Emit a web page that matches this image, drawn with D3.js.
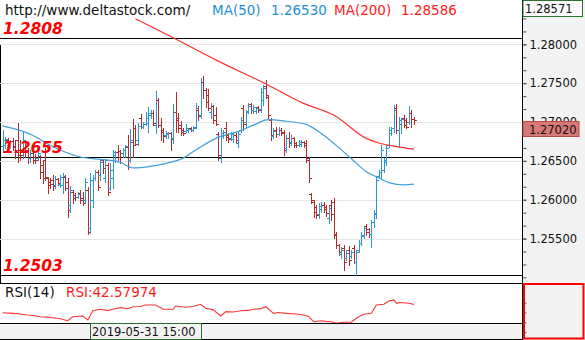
<!DOCTYPE html>
<html>
<head>
<meta charset="utf-8">
<script src="https://cdn.jsdelivr.net/npm/d3@7"></script>
<style>
  body { margin: 0; background: #fff; }
  svg { display: block; }
  text { font-family: "DejaVu Sans", Verdana, sans-serif; }
</style>
</head>
<body>
<svg id="chart" width="585" height="340"></svg>
<script>
// Hourly OHLC bars
const opens = [
  1.2669,1.2670,1.2677,1.2670,1.2676,1.2669,1.2677,1.2664,1.2661,1.2674,
  1.2664,1.2654,1.2660,1.2655,1.2654,1.2656,1.2645,1.2651,1.2628,1.2623,
  1.2625,1.2619,1.2627,1.2620,1.2619,1.2629,1.2623,1.2593,1.2610,1.2606,
  1.2603,1.2609,1.2602,1.2600,1.2612,1.2564,1.2600,1.2628,1.2636,1.2632,
  1.2651,1.2628,1.2645,1.2615,1.2628,1.2657,1.2661,1.2663,1.2660,1.2664,
  1.2668,1.2651,1.2674,1.2692,1.2677,1.2705,1.2694,1.2697,1.2699,1.2709,
  1.2712,1.2696,1.2728,1.2696,1.2690,1.2683,1.2685,1.2686,1.2680,1.2713,
  1.2705,1.2696,1.2690,1.2689,1.2690,1.2692,1.2690,1.2694,1.2716,1.2709,
  1.2751,1.2741,1.2735,1.2713,1.2721,1.2709,1.2685,1.2654,1.2682,1.2692,
  1.2683,1.2680,1.2678,1.2683,1.2673,1.2690,1.2718,1.2700,1.2714,1.2723,
  1.2716,1.2714,1.2719,1.2717,1.2728,1.2746,1.2732,1.2703,1.2682,1.2690,
  1.2685,1.2690,1.2687,1.2667,1.2680,1.2674,1.2680,1.2673,1.2670,1.2672,
  1.2674,1.2673,1.2651,1.2607,1.2597,1.2591,1.2582,1.2588,1.2593,1.2591,
  1.2577,1.2593,1.2597,1.2556,1.2542,1.2530,1.2538,1.2525,1.2535,1.2528,
  1.2538,1.2520,1.2535,1.2544,1.2555,1.2566,1.2562,1.2556,1.2571,1.2582,
  1.2631,1.2636,1.2638,1.2649,1.2670,1.2686,1.2692,1.2718,1.2690,1.2697,
  1.2705,1.2703,1.2700,1.2712,1.2704
];
const highs = [
  1.2690,1.2681,1.2680,1.2677,1.2680,1.2677,1.2699,1.2677,1.2687,1.2677,
  1.2667,1.2664,1.2664,1.2659,1.2664,1.2657,1.2651,1.2667,1.2629,1.2628,
  1.2632,1.2631,1.2628,1.2632,1.2634,1.2632,1.2628,1.2618,1.2612,1.2609,
  1.2610,1.2612,1.2610,1.2628,1.2616,1.2634,1.2632,1.2638,1.2638,1.2651,
  1.2651,1.2652,1.2647,1.2647,1.2664,1.2663,1.2670,1.2664,1.2667,1.2670,
  1.2683,1.2691,1.2704,1.2696,1.2699,1.2710,1.2700,1.2713,1.2719,1.2716,
  1.2716,1.2740,1.2731,1.2705,1.2692,1.2689,1.2687,1.2687,1.2723,1.2739,
  1.2712,1.2701,1.2692,1.2697,1.2692,1.2694,1.2695,1.2724,1.2721,1.2757,
  1.2759,1.2744,1.2743,1.2724,1.2722,1.2719,1.2687,1.2692,1.2690,1.2700,
  1.2686,1.2687,1.2687,1.2686,1.2687,1.2706,1.2722,1.2716,1.2724,1.2724,
  1.2722,1.2719,1.2721,1.2744,1.2748,1.2754,1.2735,1.2705,1.2692,1.2694,
  1.2694,1.2692,1.2690,1.2683,1.2687,1.2683,1.2681,1.2674,1.2677,1.2677,
  1.2675,1.2677,1.2655,1.2609,1.2600,1.2593,1.2596,1.2597,1.2597,1.2593,
  1.2593,1.2600,1.2602,1.2558,1.2543,1.2539,1.2542,1.2535,1.2540,1.2535,
  1.2542,1.2535,1.2548,1.2558,1.2566,1.2569,1.2564,1.2574,1.2587,1.2631,
  1.2638,1.2670,1.2654,1.2670,1.2694,1.2694,1.2722,1.2723,1.2706,1.2705,
  1.2709,1.2705,1.2721,1.2716,1.2706
];
const lows = [
  1.2661,1.2667,1.2668,1.2667,1.2664,1.2654,1.2649,1.2651,1.2654,1.2655,
  1.2647,1.2649,1.2647,1.2647,1.2651,1.2628,1.2622,1.2625,1.2609,1.2615,
  1.2612,1.2615,1.2619,1.2616,1.2609,1.2612,1.2578,1.2584,1.2596,1.2600,
  1.2602,1.2596,1.2593,1.2597,1.2556,1.2557,1.2591,1.2625,1.2612,1.2625,
  1.2634,1.2623,1.2606,1.2612,1.2615,1.2649,1.2651,1.2647,1.2655,1.2655,
  1.2639,1.2649,1.2655,1.2670,1.2670,1.2692,1.2692,1.2696,1.2687,1.2705,
  1.2696,1.2686,1.2694,1.2677,1.2674,1.2680,1.2680,1.2664,1.2673,1.2687,
  1.2687,1.2683,1.2683,1.2687,1.2687,1.2689,1.2689,1.2692,1.2703,1.2705,
  1.2731,1.2719,1.2716,1.2705,1.2699,1.2696,1.2651,1.2649,1.2680,1.2677,
  1.2674,1.2677,1.2674,1.2673,1.2668,1.2687,1.2690,1.2694,1.2712,1.2712,
  1.2712,1.2712,1.2713,1.2713,1.2722,1.2731,1.2705,1.2677,1.2680,1.2681,
  1.2683,1.2683,1.2657,1.2661,1.2668,1.2670,1.2668,1.2668,1.2669,1.2669,
  1.2668,1.2649,1.2623,1.2596,1.2578,1.2577,1.2577,1.2584,1.2584,1.2579,
  1.2570,1.2574,1.2551,1.2538,1.2529,1.2525,1.2510,1.2522,1.2516,1.2525,
  1.2518,1.2503,1.2533,1.2542,1.2551,1.2555,1.2552,1.2539,1.2565,1.2577,
  1.2629,1.2628,1.2636,1.2645,1.2668,1.2683,1.2687,1.2686,1.2668,1.2686,
  1.2694,1.2692,1.2697,1.2694,1.2697
];
const closes = [
  1.2677,1.2678,1.2672,1.2676,1.2668,1.2661,1.2657,1.2657,1.2677,1.2661,
  1.2654,1.2660,1.2651,1.2651,1.2660,1.2636,1.2628,1.2629,1.2619,1.2620,
  1.2618,1.2627,1.2622,1.2629,1.2631,1.2615,1.2587,1.2612,1.2602,1.2603,
  1.2607,1.2600,1.2596,1.2623,1.2558,1.2625,1.2628,1.2636,1.2616,1.2649,
  1.2641,1.2651,1.2610,1.2638,1.2661,1.2661,1.2655,1.2660,1.2664,1.2669,
  1.2651,1.2677,1.2670,1.2672,1.2695,1.2694,1.2697,1.2705,1.2712,1.2712,
  1.2699,1.2728,1.2696,1.2687,1.2682,1.2686,1.2686,1.2678,1.2713,1.2703,
  1.2692,1.2687,1.2686,1.2692,1.2691,1.2690,1.2692,1.2718,1.2708,1.2751,
  1.2741,1.2726,1.2718,1.2721,1.2703,1.2697,1.2657,1.2686,1.2687,1.2681,
  1.2678,1.2685,1.2683,1.2677,1.2685,1.2703,1.2697,1.2713,1.2721,1.2716,
  1.2719,1.2718,1.2716,1.2739,1.2744,1.2735,1.2709,1.2683,1.2689,1.2685,
  1.2690,1.2686,1.2664,1.2680,1.2673,1.2680,1.2670,1.2670,1.2674,1.2674,
  1.2670,1.2654,1.2628,1.2600,1.2584,1.2580,1.2592,1.2593,1.2588,1.2583,
  1.2589,1.2582,1.2555,1.2542,1.2533,1.2535,1.2520,1.2531,1.2522,1.2533,
  1.2520,1.2533,1.2544,1.2553,1.2564,1.2558,1.2556,1.2571,1.2583,1.2625,
  1.2636,1.2664,1.2651,1.2667,1.2690,1.2692,1.2716,1.2690,1.2703,1.2704,
  1.2696,1.2694,1.2712,1.2704,1.2702
];

// Moving averages, [bar index, value]
const ma50 = [
  [0,1.2695],[12,1.2683],[19,1.2670],[31,1.2655],[39,1.2652],[47,1.2648],
  [52,1.2641],[59,1.2643],[68,1.2649],[71,1.2652],[77,1.2664],[85,1.2679],
  [95,1.2689],[100,1.2696],[106,1.2703],[113,1.2701],[121,1.2697],[128,1.2683],
  [133,1.2670],[139,1.2653],[145,1.2636],[150,1.2628],[154,1.2622],[160,1.2619],[164,1.2620]
];
const ma200 = [
  [53,1.2833],[69,1.2807],[85,1.2780],[105,1.2749],[120,1.2724],[132,1.2709],
  [145,1.2679],[150,1.2673],[158,1.2668],[164,1.2665]
];

// RSI(14), [bar index, value]
const rsi14 = [
  [0,32.2],[4,31.4],[7,30.6],[10,29.3],[13,28.4],[15,27.1],[18,26.6],[20,25.8],[23,24.6],[26,22.0],[28,27.1],[32,28.0],
  [34,22.9],[36,34.7],[39,36.5],[42,34.9],[44,36.5],[47,38.6],[50,37.2],[52,39.8],[55,40.1],[57,42.0],[61,42.0],
  [64,36.5],[68,36.5],[69,40.7],[73,39.1],[76,40.0],[79,42.9],[81,37.8],[84,35.8],[87,28.0],[89,33.5],
  [92,33.0],[95,34.7],[98,35.1],[100,36.5],[103,37.4],[105,39.8],[108,31.4],[110,32.4],[113,31.4],[117,30.5],[120,29.3],
  [122,27.5],[124,20.7],[127,22.0],[129,21.2],[131,20.7],[133,18.7],[136,20.0],[139,20.0],[141,25.1],
  [144,30.2],[147,31.4],[149,42.0],[152,42.9],[154,47.1],[156,48.4],[157,44.2],
  [158,45.0],[160,44.9],[162,44.2],[164,42.58]
];

const levels = [1.2808, 1.2655, 1.2503];
const priceTicks = [1.28, 1.275, 1.27, 1.265, 1.26, 1.255];
const rsiTicks = [7.5, 20, 32.5, 45];
const topPrice = 1.28571;
const bottomPrice = 1.249278;
const lastPrice = 1.27020;
const siteLabel = "http://www.deltastock.com/";
const ma50Label = ["MA(50)", "1.26530"];
const ma200Label = ["MA(200)", "1.28586"];
const rsiLabel = ["RSI(14)", "RSI:42.57974"];
const timeLabel = "2019-05-31 15:00";

const UP = "#2d96d2", DOWN = "#b22a2e";
const W = 585, H = 340;
const plotR = 522;          // right edge of plotting area
const priceBottom = 283;
const rsiBottom = 323.5;

const svg = d3.select("#chart");
const n = closes.length;
const x = d3.scaleLinear().domain([0, n - 1]).range([2.5, 414]);
const y = d3.scaleLinear().domain([topPrice, bottomPrice]).range([0, priceBottom]);
const yR = d3.scaleLinear().domain([0, 70]).range([338, 283]);
const px = v => Math.round(v) + 0.5;

// backgrounds
svg.append("rect").attr("width", W).attr("height", H).attr("fill", "#fff");
svg.append("rect").attr("x", plotR + 1).attr("y", 0).attr("width", W - plotR - 1).attr("height", H).attr("fill", "#f3f3f3");
svg.append("rect").attr("x", 0).attr("y", 324).attr("width", plotR).attr("height", 15).attr("fill", "#f3f3f3");

const defs = svg.append("defs");
defs.append("clipPath").attr("id", "clipPrice").append("rect")
  .attr("x", 0).attr("y", 0).attr("width", plotR).attr("height", priceBottom);
defs.append("clipPath").attr("id", "clipRsi").append("rect")
  .attr("x", 0).attr("y", priceBottom + 1).attr("width", plotR).attr("height", rsiBottom - priceBottom - 1.5);

// left frame of the price pane
svg.append("line").attr("x1", 0.5).attr("x2", 0.5).attr("y1", 44).attr("y2", priceBottom)
  .attr("stroke", "#000");

// grid
svg.append("g").selectAll("line").data(priceTicks).join("line")
  .attr("x1", 0).attr("x2", plotR)
  .attr("y1", d => px(y(d))).attr("y2", d => px(y(d)))
  .attr("stroke", "#e6e6e6");

// support / resistance levels
svg.append("g").selectAll("line").data(levels).join("line")
  .attr("x1", 0).attr("x2", plotR)
  .attr("y1", d => px(y(d))).attr("y2", d => px(y(d)))
  .attr("stroke", "#000").attr("stroke-width", 1.1);

// OHLC bars
const bars = d3.range(n).map(i => ({ i, o: opens[i], h: highs[i], l: lows[i], c: closes[i] }));
svg.append("g").attr("clip-path", "url(#clipPrice)")
  .selectAll("path").data(bars).join("path")
  .attr("fill", "none")
  .attr("stroke", d => d.c >= d.o ? UP : DOWN)
  .attr("stroke-width", 1)
  .attr("d", d => {
    const cx = px(x(d.i));
    const yo = px(y(d.o)), yc = px(y(d.c));
    return `M${cx},${Math.round(y(d.h))}V${Math.round(y(d.l)) + 1}` +
           `M${cx - 2.5},${yo}H${cx}M${cx},${yc}H${cx + 2.5}`;
  });

// moving averages
const maLine = d3.line().x(d => x(d[0])).y(d => y(d[1])).curve(d3.curveMonotoneX);
const maG = svg.append("g").attr("clip-path", "url(#clipPrice)");
maG.append("path").datum(ma50).attr("d", maLine)
  .attr("fill", "none").attr("stroke", "#3fa0dc").attr("stroke-width", 1.2);
maG.append("path").datum(ma200).attr("d", maLine)
  .attr("fill", "none").attr("stroke", "#ff2e2e").attr("stroke-width", 1.2);

// level labels
svg.append("g").selectAll("text").data(levels).join("text")
  .attr("x", 3).attr("y", d => y(d) - 4)
  .attr("fill", "#ff0000")
  .attr("font-size", 15.5).attr("font-weight", "bold").attr("font-style", "italic")
  .text(d => d.toFixed(4));

// header legend
const head = svg.append("g").attr("font-size", 13.5);
head.append("text").attr("x", 5).attr("y", 15).attr("fill", "#111").text(siteLabel);
head.append("text").attr("x", 212).attr("y", 15).attr("fill", "#1f8fd3").text(ma50Label[0]);
head.append("text").attr("x", 271).attr("y", 15).attr("fill", "#1f8fd3").text(ma50Label[1]);
head.append("text").attr("x", 334).attr("y", 15).attr("fill", "#ff2020").text(ma200Label[0]);
head.append("text").attr("x", 401).attr("y", 15).attr("fill", "#ff2020").text(ma200Label[1]);

// pane separators
[priceBottom + 0.5, rsiBottom, 339.5].forEach(v => {
  svg.append("line").attr("x1", 0).attr("x2", plotR).attr("y1", v).attr("y2", v).attr("stroke", "#000");
});

// RSI pane
svg.append("g").attr("clip-path", "url(#clipRsi)")
  .append("path").datum(rsi14)
  .attr("d", d3.line().x(d => x(d[0])).y(d => yR(d[1])))
  .attr("fill", "none").attr("stroke", "#ff3434").attr("stroke-width", 1.1);
svg.append("text").attr("x", 5).attr("y", 297).attr("font-size", 13.5).attr("fill", "#111").text(rsiLabel[0]);
svg.append("text").attr("x", 66).attr("y", 297).attr("font-size", 13.5).attr("fill", "#ff1a1a").text(rsiLabel[1]);

// price axis
const axisG = svg.append("g").attr("transform", `translate(${plotR + 0.5},0)`);
const minorTicks = d3.range(-22, 4).map(k => 1.28 + k * 0.005 / 3)
  .filter(v => v < topPrice - 0.0003 && v > bottomPrice);
axisG.append("g")
  .call(d3.axisRight(y).tickValues(minorTicks).tickSize(4).tickFormat(() => ""))
  .call(g => g.select(".domain").remove())
  .call(g => g.selectAll("line").attr("stroke", "#555"));
axisG.append("g")
  .call(d3.axisRight(y).tickValues(priceTicks).tickSize(4).tickPadding(3).tickFormat(d3.format(".5f")))
  .call(g => g.select(".domain").remove())
  .call(g => g.selectAll("line").attr("stroke", "#555"))
  .call(g => g.selectAll("text").attr("font-size", 11.5).attr("fill", "#111")
    .attr("font-family", "'DejaVu Sans', Verdana, sans-serif"));

// RSI axis ticks
axisG.append("g")
  .call(d3.axisRight(yR).tickValues(rsiTicks).tickSize(4).tickFormat(() => ""))
  .call(g => g.select(".domain").remove())
  .call(g => g.selectAll("line").attr("stroke", "#555"));

// axis frame
svg.append("line").attr("x1", plotR + 0.5).attr("x2", plotR + 0.5).attr("y1", 0).attr("y2", H).attr("stroke", "#000");

// top-of-scale box
svg.append("rect").attr("x", plotR + 1).attr("y", 0.5).attr("width", 59.5).attr("height", 16)
  .attr("fill", "#fafafa").attr("stroke", "#2e6e2e");
svg.append("text").attr("x", plotR + 3).attr("y", 12.5).attr("font-size", 11.5).attr("fill", "#111")
  .text(topPrice.toFixed(5));

// last price box
const lpY = Math.round(y(lastPrice)) + 1.5;
svg.append("rect").attr("x", plotR + 1).attr("y", lpY).attr("width", 56).attr("height", 15)
  .attr("fill", "#d77977").attr("stroke", "#b84a48");
svg.append("text").attr("x", plotR + 7).attr("y", lpY + 12).attr("font-size", 11.5).attr("fill", "#111")
  .text(lastPrice.toFixed(5));

// RSI scale frame
svg.append("rect").attr("x", plotR + 2).attr("y", priceBottom + 1).attr("width", 59.5).attr("height", 54.5)
  .attr("fill", "none").attr("stroke", "#ff0000").attr("stroke-width", 2);

// time label
svg.append("rect").attr("x", 90.5).attr("y", rsiBottom).attr("width", 111).attr("height", 16)
  .attr("fill", "#f3f3f3").attr("stroke", "#2e6e2e");
svg.append("text").attr("x", 92).attr("y", 336).attr("font-size", 11.5).attr("fill", "#111").text(timeLabel);
</script>
</body>
</html>
